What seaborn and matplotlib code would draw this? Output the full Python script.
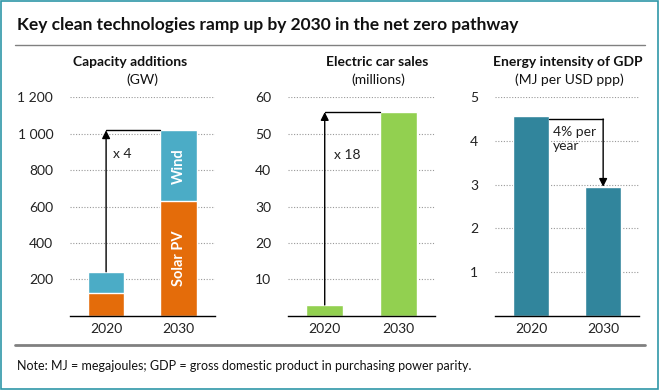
import seaborn as sns
import matplotlib.pyplot as plt
import matplotlib.patches as patches
import matplotlib.lines as mlines
import pandas as pd

# data
years = ["2020", "2030"]
solar_pv = [127, 628]
wind = [115, 390]
ev_sales = [3.0, 55.9]
energy_intensity = [4.57, 2.95]

ORANGE = "#E46C0A"
BLUE = "#4BACC6"
GREEN = "#92D050"
TEAL = "#31859C"

sns.set_theme(style="white")
plt.rcParams["font.family"] = ["Lato", "DejaVu Sans"]

fig = plt.figure(figsize=(6.59, 3.90), dpi=100)


def style_axis(ax, ticks, labels, ymax):
    ax.set_ylim(0, ymax)
    ax.set_xlim(-0.5, 1.5)
    ax.set_yticks(ticks)
    ax.set_yticklabels(labels, fontsize=10)
    ax.grid(axis="y", linestyle=(0, (1, 1.5)), color="#999999", linewidth=0.8)
    ax.set_axisbelow(True)
    for s in ["left", "right", "top"]:
        ax.spines[s].set_visible(False)
    ax.spines["bottom"].set_color("black")
    ax.spines["bottom"].set_linewidth(1)
    ax.tick_params(axis="both", length=0, labelsize=10, colors="#222222")
    ax.tick_params(axis="y", pad=12)
    ax.tick_params(axis="x", pad=5)
    ax.set_xlabel("")
    ax.set_ylabel("")


# panel 1 - capacity additions
ax1 = fig.add_axes([0.106, 0.190, 0.220, 0.561])
cap = pd.DataFrame({"year": years, "solar": solar_pv,
                    "total": [s + w for s, w in zip(solar_pv, wind)]})
sns.barplot(data=cap, x="year", y="total", color=BLUE, width=0.5,
            saturation=1, ax=ax1)
sns.barplot(data=cap, x="year", y="solar", color=ORANGE, width=0.5,
            saturation=1, ax=ax1)
style_axis(ax1, [200, 400, 600, 800, 1000, 1200],
           ["200", "400", "600", "800", "1 000", "1 200"], 1200)
top1 = cap["total"].iloc[1]
ax1.annotate("", xy=(0, top1), xytext=(0, cap["total"].iloc[0]),
             arrowprops=dict(arrowstyle="-|>", color="black", lw=1,
                             mutation_scale=12, shrinkA=0, shrinkB=0))
ax1.plot([0, 0.75], [top1, top1], color="black", lw=1)
ax1.text(0.1, 890, "x 4", fontsize=10, va="center", color="#222222")
ax1.text(1, cap["solar"].iloc[1] / 2, "Solar PV", rotation=90, color="white",
         fontsize=10.5, fontweight="bold", ha="center", va="center")
ax1.text(1, (cap["solar"].iloc[1] + top1) / 2, "Wind", rotation=90,
         color="white", fontsize=10.5, fontweight="bold",
         ha="center", va="center")

# panel 2 - electric car sales
ax2 = fig.add_axes([0.437, 0.190, 0.223, 0.561])
ev = pd.DataFrame({"year": years, "sales": ev_sales})
sns.barplot(data=ev, x="year", y="sales", color=GREEN, width=0.5,
            saturation=1, ax=ax2)
style_axis(ax2, [10, 20, 30, 40, 50, 60],
           ["10", "20", "30", "40", "50", "60"], 60)
ax2.annotate("", xy=(0, ev_sales[1]), xytext=(0, ev_sales[0]),
             arrowprops=dict(arrowstyle="-|>", color="black", lw=1,
                             mutation_scale=12, shrinkA=0, shrinkB=0))
ax2.plot([0, 0.75], [ev_sales[1], ev_sales[1]], color="black", lw=1)
ax2.text(0.12, 44, "x 18", fontsize=10, va="center", color="#222222")

# panel 3 - energy intensity
ax3 = fig.add_axes([0.751, 0.190, 0.219, 0.561])
ei = pd.DataFrame({"year": years, "intensity": energy_intensity})
sns.barplot(data=ei, x="year", y="intensity", color=TEAL, width=0.5,
            saturation=1, ax=ax3)
style_axis(ax3, [1, 2, 3, 4, 5], ["1", "2", "3", "4", "5"], 5)
ax3.plot([0.25, 1], [4.5, 4.5], color="black", lw=1)
ax3.annotate("", xy=(1, energy_intensity[1]), xytext=(1, 4.5),
             arrowprops=dict(arrowstyle="-|>", color="black", lw=1,
                             mutation_scale=12, shrinkA=0, shrinkB=0))
ax3.text(0.3, 4.35, "4% per\nyear", fontsize=10, va="top", ha="left",
         color="#222222", linespacing=1.2)

# panel titles
for x, y1, y2, t1, t2 in [(130, 142, 0, "Capacity additions", "(GW)"),
                          (377, 378, 0, "Electric car sales", "(millions)"),
                          (568, 569, 0, "Energy intensity of GDP", "(MJ per USD ppp)")]:
    fig.text(x / 659, 1 - 62 / 390, t1, ha="center", va="center",
             fontsize=10, fontweight="bold", color="#111111")
    fig.text(y1 / 659, 1 - 80 / 390, t2, ha="center", va="center",
             fontsize=10, color="#111111")

# title, rules, note and frame
fig.text(17 / 659, 1 - 25 / 390,
         "Key clean technologies ramp up by 2030 in the net zero pathway",
         fontsize=12.5, fontweight="bold", va="center", color="#111111")
fig.add_artist(mlines.Line2D([15 / 659, 645 / 659], [1 - 45 / 390] * 2,
                             color="#808080", lw=1))
fig.add_artist(mlines.Line2D([15 / 659, 645 / 659], [1 - 345 / 390] * 2,
                             color="#808080", lw=2))
fig.text(17 / 659, 1 - 366 / 390,
         "Note: MJ = megajoules; GDP = gross domestic product in purchasing power parity.",
         fontsize=9, va="center", color="#111111")
fig.add_artist(patches.Rectangle((0.002, 0.003), 0.996, 0.994,
                                 transform=fig.transFigure, fill=False,
                                 edgecolor="#2F97A8", lw=1.2))

fig.savefig("out.png", dpi=100)
